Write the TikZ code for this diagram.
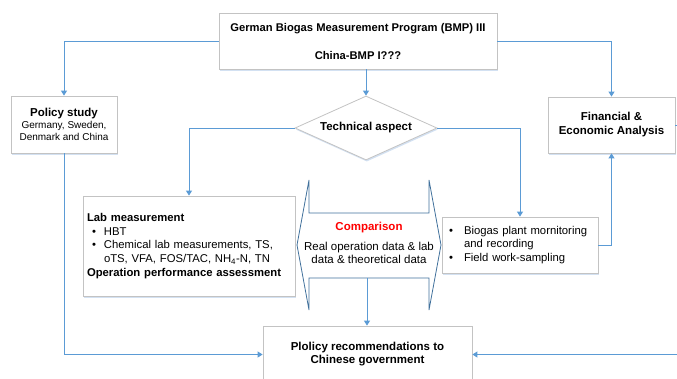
\documentclass[tikz,border=0pt]{standalone}
\usepackage{fontspec}
\setmainfont{Liberation Sans}
\usetikzlibrary{arrows.meta,shapes.geometric,shadows}
\definecolor{conn}{HTML}{5B9BD5}
\definecolor{edgegray}{HTML}{C3C3C3}
\definecolor{arrowblue}{HTML}{41719C}
\definecolor{shad}{HTML}{D3E1F2}
\begin{document}
\begin{tikzpicture}[x=1pt,y=-1pt,
  box/.style={draw=edgegray, line width=0.8pt, fill=white, inner sep=0pt,
    drop shadow={shadow xshift=0.8pt, shadow yshift=-1.6pt, fill=shad, opacity=1}},
  link/.style={draw=conn, line width=1pt, -{Triangle[width=6pt,length=5pt]}},
  plainlink/.style={draw=conn, line width=1pt},
  bodyfont/.style={font=\fontsize{11.3}{13.7}\selectfont},
  boldfont/.style={font=\fontsize{11.5}{13.5}\selectfont\bfseries},
]
\useasboundingbox (0,0) rectangle (677,378);
\clip (0,0) rectangle (677,378);

% boxes
\node[box, boldfont, font=\fontsize{11.2}{13.5}\selectfont\bfseries, align=center,
  minimum width=278pt, minimum height=56pt] (top) at (358,41)
  {German Biogas Measurement Program (BMP) III\\[14.5pt]China-BMP I???};

\node[box, align=center, font=\fontsize{10}{12}\selectfont,
  minimum width=106pt, minimum height=57pt] (pol) at (64,124.5)
  {\textbf{\fontsize{11.5}{12}\selectfont Policy study}\\Germany, Sweden,\\Denmark and China};

\node[box, boldfont, align=center, font=\fontsize{11.5}{14}\selectfont\bfseries,
  minimum width=127pt, minimum height=56pt] (fin) at (611.5,125)
  {Financial \&\\Economic Analysis};

\node[box, diamond, boldfont, aspect=2.22, minimum width=142pt, minimum height=64pt]
  (tech) at (366,128) {Technical aspect};

\node[box, bodyfont, align=left, text width=204pt, inner xsep=4pt,
  minimum height=100pt] (lab) at (189,246)
  {\textbf{Lab measurement}\\
   \hspace*{5pt}\makebox[12pt][l]{\textbullet}HBT\\
   \hspace*{5pt}\makebox[12pt][l]{\textbullet}Chemical lab measurements, TS,\\
   \hspace*{17pt}oTS, VFA, FOS/TAC, NH\textsubscript{4}-N, TN\\
   \textbf{Operation performance assessment}};

\node[box, bodyfont, font=\fontsize{11.3}{13.5}\selectfont, align=left, text width=146pt,
  inner xsep=5pt, minimum height=56pt] (bio) at (520,245)
  {\hspace*{2pt}\makebox[15pt][l]{\textbullet}Biogas plant mornitoring\\
   \hspace*{17pt}and recording\\
   \hspace*{2pt}\makebox[15pt][l]{\textbullet}Field work-sampling};

\node[box, boldfont, align=center, font=\fontsize{11.5}{13}\selectfont\bfseries,
  minimum width=209pt, minimum height=57pt] (plo) at (367.5,354.5)
  {Plolicy recommendations to\\Chinese government};

% comparison double arrow
\draw[draw=arrowblue, line width=0.8pt, fill=white]
  (297,245) -- (309,180) -- (309,213) -- (429,213) -- (429,180) -- (441,245)
  -- (429,310) -- (429,278) -- (309,278) -- (309,310) -- cycle;
\coordinate (cmpS) at (367,278);
\node[bodyfont, align=center, font=\fontsize{11.5}{13.2}\selectfont] (cmp) at (369,243)
  {\textcolor{red}{\bfseries Comparison}\\[7pt]Real operation data \& lab\\data \& theoretical data};

% connectors
\coordinate (offr) at (700,0);
\draw[link] (top.west) -| (pol.north);
\draw[link] (top.east) -| (fin.north);
\draw[link] (tech.north |- top.south) -- (tech.north);
\draw[link] (tech.west) -| (lab.north);
\draw[link] (tech.east) -| (bio.north);
\draw[link] (bio.east) -| (fin.south);
\draw[link] (pol.south) |- (plo.west);
\draw[link] (fin.east) -- (fin.east -| offr) -- (offr |- plo.east) -- (plo.east);
\draw[link] (cmpS) -- (cmpS |- plo.north);
\end{tikzpicture}
\end{document}
